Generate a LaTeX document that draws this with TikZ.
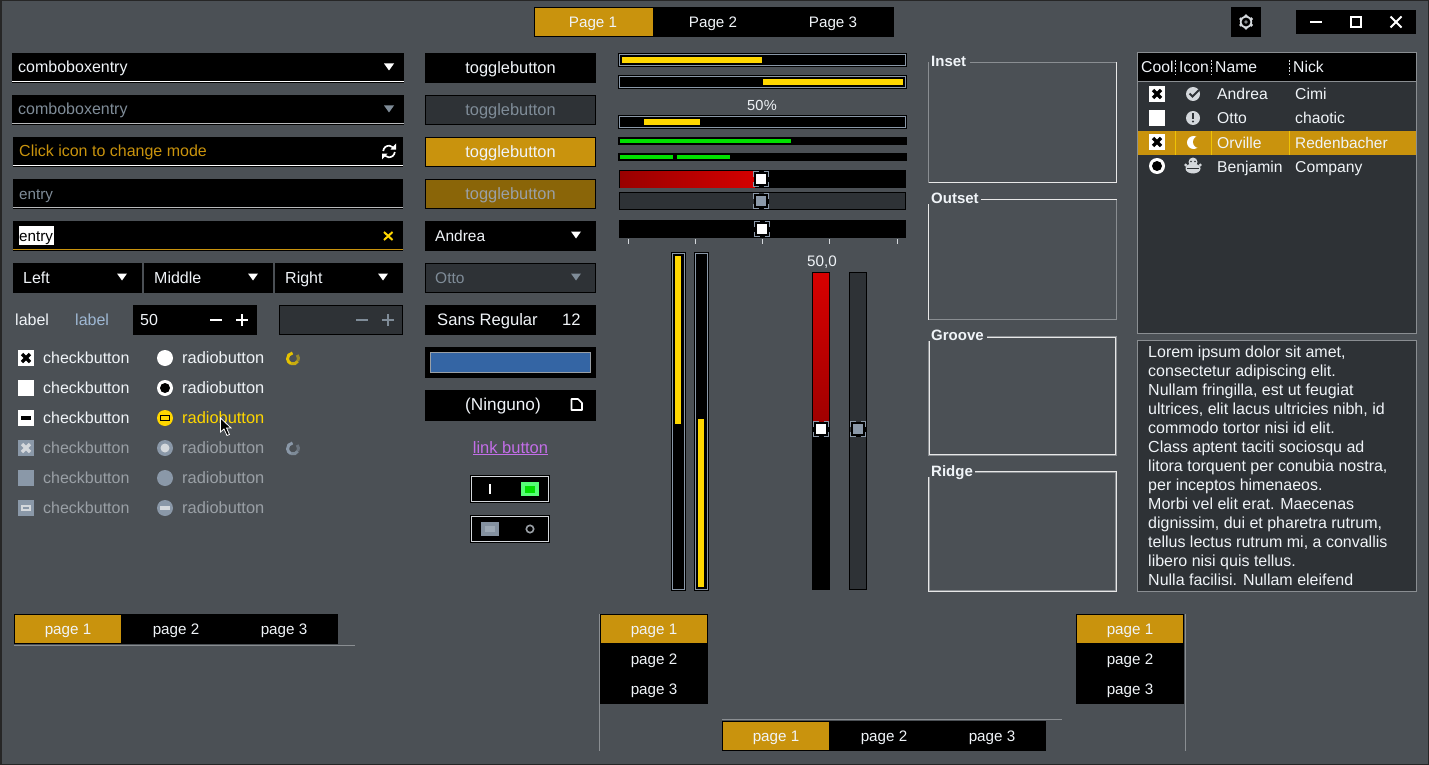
\documentclass[tikz,border=0pt]{standalone}
\usepackage{fontspec}
\setmainfont{Liberation Sans}
\usetikzlibrary{calc}
\definecolor{bg}{HTML}{4B5055}
\definecolor{wfg}{HTML}{F0F4F8}
\definecolor{dimfg}{HTML}{7F8C98}
\definecolor{dimcheck}{HTML}{9AA0A6}
\definecolor{insens}{HTML}{2E3236}
\definecolor{gold}{HTML}{C9930D}
\definecolor{dkgold}{HTML}{8A6508}
\definecolor{yel}{HTML}{FFD700}
\definecolor{grn}{HTML}{00E000}
\definecolor{slate}{HTML}{8A98A8}
\definecolor{lslate}{HTML}{D4D8DC}
\definecolor{lblue}{HTML}{9FB8D4}
\definecolor{frm}{HTML}{8A8E92}
\definecolor{frl}{HTML}{E8E8E8}
\definecolor{cblue}{HTML}{3465A4}
\definecolor{clink}{HTML}{C36EE8}
\definecolor{swgrn}{HTML}{55FF77}
\definecolor{redA}{HTML}{990000}
\definecolor{redB}{HTML}{D40000}
\definecolor{redC}{HTML}{D80000}
\definecolor{redD}{HTML}{A00000}
\tikzset{
  x=1pt,y=-1pt,
  every node/.style={font=\fontsize{16}{18}\selectfont},
  fs/.style={font=\fontsize{#1}{18}\selectfont},
  lbl/.style={inner sep=0,text=wfg,anchor=base west},
  clbl/.style={inner sep=0,text=wfg,anchor=base},
  bold/.style={font=\fontsize{15}{18}\selectfont\bfseries},
  hair/.style={line width=1pt},
}
% text: [opts] name x ycentre text
\newcommand\TL[5][]{\node[lbl,#1] (#2) at (#3,{#4+6}) {#5};}
\newcommand\TC[5][]{\node[clbl,#1] (#2) at (#3,{#4+6}) {#5};}
\newcommand\wbox[5]{\fill[#5] (#1,#2) rectangle (#3,#4);}
% button with insensitive look
\newcommand\ibox[4]{\fill[black] (#1,#2) rectangle (#3,#4);\fill[insens] ({#1+1},{#2+1}) rectangle ({#3-1},{#4-1});}
\newcommand\arr[3]{\fill[#3] ({#1-5},{#2-3.5}) -- ({#1+5},{#2-3.5}) -- (#1,{#2+3.5}) -- cycle;}
% entry: x1 y1 x2 y2 linecolor
\newcommand\entrybox[5]{\fill[black] (#1,#2) rectangle (#3,#4);\fill[#5] (#1,#4) rectangle (#3,{#4+1});\fill[black] (#1,{#4+1}) rectangle (#3,{#4+1.6});}
% checks
\newcommand\chkbg[3]{\fill[#3] ({#1-8},{#2-8}) rectangle ({#1+8},{#2+8});}
\newcommand\chkX[4]{\chkbg{#1}{#2}{#3}\draw[#4,line width=3.4pt] ({#1-4},{#2-4}) -- ({#1+4},{#2+4}) ({#1-4},{#2+4}) -- ({#1+4},{#2-4});}
\newcommand\chkM[4]{\chkbg{#1}{#2}{#3}\fill[#4] ({#1-5},{#2-2}) rectangle ({#1+5},{#2+2});}
\newcommand\hdl[3]{%
  \fill[black] ({#1-7.5},{#2-7.5}) rectangle ({#1+7.5},{#2+7.5});
  \fill[#3] ({#1-5.2},{#2-5.2}) rectangle ({#1+5.2},{#2+5.2});
  \draw[slate,line width=1pt] ({#1-2.5},{#2-7.5}) -- ({#1-7.5},{#2-7.5}) -- ({#1-7.5},{#2-2.5});
  \draw[slate,line width=1pt] ({#1+2.5},{#2-7.5}) -- ({#1+7.5},{#2-7.5}) -- ({#1+7.5},{#2-2.5});
  \draw[slate,line width=1pt] ({#1-2.5},{#2+7.5}) -- ({#1-7.5},{#2+7.5}) -- ({#1-7.5},{#2+2.5});
  \draw[slate,line width=1pt] ({#1+2.5},{#2+7.5}) -- ({#1+7.5},{#2+7.5}) -- ({#1+7.5},{#2+2.5});
}
% horizontal/vertical progress trough
\newcommand\trough[4]{\fill[black] (#1,#2) rectangle (#3,#4);\draw[slate,line width=1pt] ({#1+1.5},{#2+1.5}) rectangle ({#3-1.5},{#4-1.5});}
% spinner: x y colour
\newcommand\spinner[3]{%
  \draw[#3,line width=3pt] ($(#1,#2)+(265:5.5)$) arc (265:110:5.5);
  \draw[#3!80!bg,line width=3pt] ($(#1,#2)+(110:5.5)$) arc (110:30:5.5);
  \draw[#3!50!bg,line width=3pt] ($(#1,#2)+(30:5.5)$) arc (30:-40:5.5);
}
\begin{document}
\begin{tikzpicture}
\useasboundingbox (0,0) rectangle (1429,765);
\fill[bg] (0,0) rectangle (1429,765);
\draw[black!85,line width=1.5pt] (0.75,0.75) rectangle (1428.25,764.25);
% ---------- header
\wbox{534}{7}{894}{37}{black}
\wbox{535}{8}{653}{36}{gold}
\TC[fs=15.2]{hp1}{593}{21.5}{Page 1}
\TC[fs=15.2]{hp2}{713}{21.5}{Page 2}
\TC[fs=15.2]{hp3}{833}{21.5}{Page 3}
\wbox{1231}{7}{1261}{37}{black}
\fill[lslate] (1246,22) circle (6.2);
\foreach \a in {30,90,...,330}{\fill[lslate] ($(1246,22)+(\a:6)$) circle (1.8);}
\fill[black] (1246,22) circle (4.4);
\fill[lslate!60!black] (1246,22) circle (1.8);
\wbox{1296}{10}{1416}{34}{black}
\draw[white,line width=2pt] (1310,22) -- (1322,22);
\draw[white,line width=2pt] (1351,17.5) rectangle (1361,27);
\draw[white,line width=1.8pt] (1390.5,16.5) -- (1401.5,27.5) (1390.5,27.5) -- (1401.5,16.5);
% ---------- left column entries
\entrybox{12}{53}{404}{81}{white}
\TL{ce1}{18}{67}{comboboxentry}
\arr{389}{67}{white}
\entrybox{12}{95}{404}{123}{frl!70!bg}
\TL[text=dimfg]{ce2}{18}{109}{comboboxentry}
\arr{389}{109}{dimfg}
\entrybox{13}{137}{403}{165}{white}
\TL[text=gold]{en1}{19}{151}{Click icon to change mode}
\draw[white,line width=1.7pt] ($(389,151.5)+(185:5.8)$) arc (185:315:5.8);
\draw[white,line width=1.7pt] ($(389,151.5)+(5:5.8)$) arc (5:135:5.8);
\fill[white] (396,143.5) -- (396,149.5) -- (390.5,149.5) -- cycle;
\fill[white] (382,159.5) -- (382,153.5) -- (387.5,153.5) -- cycle;
\entrybox{13}{179}{403}{207}{frl!70!bg}
\TL[text=dimfg,fs=15.2]{en2}{19}{193}{entry}
\entrybox{13}{221}{403}{249}{gold}
\wbox{19}{226}{54}{245}{white}
\TL[text=black,fs=15.2]{en3}{19}{235}{entry}
\draw[yel,line width=2pt] (384,232) -- (392.5,240) (384,240) -- (392.5,232);
\wbox{13}{263}{142}{293}{black}
\wbox{144}{263}{273}{293}{black}
\wbox{275}{263}{403}{293}{black}
\TL{bl}{23}{277}{Left}
\TL{bm}{154}{277}{Middle}
\TL{br}{285}{277}{Right}
\arr{122}{277}{white}
\arr{253}{277}{white}
\arr{383}{277}{white}
\TL{l1}{15}{319.5}{label}
\TL[text=lblue]{l2}{75}{319.5}{label}
\wbox{133}{305}{257}{335}{black}
\TL{sp}{140}{319}{50}
\fill[white] (210,319) rectangle (222,321);
\fill[white] (236,319) rectangle (248,321);
\fill[white] (241,314) rectangle (243,326);
\ibox{279}{305}{403}{335}
\fill[dimfg] (356,319) rectangle (368,321);
\fill[dimfg] (382,319) rectangle (394,321);
\fill[dimfg] (387,314) rectangle (389,326);
% ---------- checks
\chkX{26}{358}{white}{black}
\chkbg{26}{388}{white}
\chkM{26}{418}{white}{black}
\chkX{26}{448}{slate}{lslate}
\chkbg{26}{478}{slate}
\chkbg{26}{508}{slate}
\fill[lslate] (21,505) rectangle (31,511);
\fill[slate] (23,507) rectangle (29,509);
\TL{c1}{43}{357.5}{checkbutton}
\TL{c2}{43}{387.5}{checkbutton}
\TL{c3}{43}{417.5}{checkbutton}
\TL[text=dimcheck]{c4}{43}{447.5}{checkbutton}
\TL[text=dimcheck]{c5}{43}{477.5}{checkbutton}
\TL[text=dimcheck]{c6}{43}{507.5}{checkbutton}
\fill[white] (165,358) circle (8);
\fill[white] (165,388) circle (8);
\fill[black] (165,388) circle (5);
\fill[yel] (165,418) circle (8);
\draw[black,line width=1.3pt] (160.5,415.7) rectangle (169.5,420.3);
\fill[slate] (165,448) circle (8);
\fill[lslate] (165,448) circle (4.5);
\fill[slate] (165,478) circle (8);
\fill[slate] (165,508) circle (8);
\fill[lslate] (160,506) rectangle (170,510);
\TL[fs=16.4]{r1}{182}{357.5}{radiobutton}
\TL[fs=16.4]{r2}{182}{387.5}{radiobutton}
\TL[text=yel,fs=16.4]{r3}{182}{417.5}{radiobutton}
\TL[text=dimcheck,fs=16.4]{r4}{182}{447.5}{radiobutton}
\TL[text=dimcheck,fs=16.4]{r5}{182}{477.5}{radiobutton}
\TL[text=dimcheck,fs=16.4]{r6}{182}{507.5}{radiobutton}
% spinners
\spinner{293}{358.5}{yel!90!black}
\spinner{293}{448.5}{slate}
% cursor
\fill[black,draw=white,line width=0.8pt] (220.5,418) -- (220.5,432) -- (224,429) -- (227,435.5) -- (229.5,434.5) -- (226.5,428) -- (231,428) -- cycle;
% ---------- middle column
\wbox{425}{53}{596}{83}{black}
\TC[fs=16.4]{tb1}{510.5}{67.5}{togglebutton}
\ibox{425}{95}{596}{125}
\TC[text=dimfg,fs=16.4]{tb2}{510.5}{109.5}{togglebutton}
\wbox{425}{137}{596}{167}{black}
\wbox{426}{138}{595}{166}{gold}
\TC[fs=16.4]{tb3}{510.5}{151.5}{togglebutton}
\wbox{425}{179}{596}{209}{black}
\wbox{426}{180}{595}{208}{dkgold}
\TC[text=dimcheck,fs=16.4]{tb4}{510.5}{193.5}{togglebutton}
\wbox{425}{221}{596}{251}{black}
\TL[fs=15.5]{cb1}{435}{235}{Andrea}
\arr{576}{235}{white}
\ibox{425}{263}{596}{293}
\TL[text=dimfg,fs=15.5]{cb2}{435}{277}{Otto}
\arr{576}{277}{dimfg}
\wbox{425}{305}{596}{335}{black}
\TL[fs=16.6]{fb1}{437}{319.5}{Sans Regular}
\TL[fs=16.6]{fb2}{562}{319.5}{12}
\wbox{425}{347}{596}{378}{black}
\fill[cblue,draw=dimcheck,line width=1pt] (430.5,352.5) rectangle (590.5,372.5);
\wbox{425}{390}{596}{421}{black}
\TC[fs=17.2]{fc1}{503}{404}{(Ninguno)}
\draw[white,line width=1.6pt,line join=round] (571.5,399) -- (578,399) -- (582,403) -- (582,410) -- (571.5,410) -- cycle;
\TC[text=clink,fs=16.5]{lnk}{510.5}{447}{\underline{link button}}
% switches
\fill[black] (470,475) rectangle (550,503);
\draw[lslate,line width=1pt] (471.5,476.5) rectangle (548.5,501.5);
\fill[white] (489,484) rectangle (491,494);
\fill[swgrn] (521,482) rectangle (539,496);
\fill[grn] (525,485.5) rectangle (535,492.5);
\fill[black] (470,515) rectangle (550,543);
\draw[lslate,line width=1pt] (471.5,516.5) rectangle (548.5,541.5);
\fill[slate!90!bg] (481,522) rectangle (499,536);
\fill[slate!85!white] (485,526) rectangle (495,532);
\draw[dimcheck,line width=1.6pt] (530,529) circle (3.7);
% ---------- progress
\trough{618}{53}{907}{67}
\wbox{622}{57}{762}{63}{yel}
\trough{618}{75}{907}{89}
\wbox{763}{79}{903}{85}{yel}
\TC[fs=14.6]{pct}{762}{104.5}{50\kern0.5pt\%}
\trough{618}{115}{907}{129}
\wbox{644}{119}{700}{125}{yel}
\wbox{618}{137}{907}{145}{black}
\wbox{620}{139}{791}{143}{grn}
\wbox{618}{153}{907}{161}{black}
\wbox{620}{155}{673}{159}{grn}
\wbox{677}{155}{730}{159}{grn}
% h-sliders
\wbox{619}{170}{906}{188}{black}
\shade[left color=redA,right color=redB] (620,171) rectangle (755,187);
\hdl{761}{179}{white}
\ibox{619}{192}{906}{210}
\hdl{761}{201}{slate}
\wbox{619}{220}{906}{238}{black}
\hdl{762}{229}{white}
\foreach \tx in {628,695,762,829,897}{\fill[lslate] ({\tx-0.5},239) rectangle ({\tx+0.5},244);}
% vertical progress
\trough{671}{252}{686}{591}
\wbox{675}{256}{681}{424}{yel}
\trough{694}{252}{709}{591}
\wbox{698}{419}{704}{587}{yel}
\TC[fs=15.2]{sc}{822}{260}{50,0}
\wbox{812}{272}{830}{590}{black}
\shade[top color=redC,bottom color=redD] (813,273) rectangle (829,423);
\hdl{821}{429}{white}
\ibox{849}{272}{867}{590}
\hdl{858}{429}{slate}
% ---------- frames
\draw[frm,hair] (928.5,67) -- (928.5,62.5) (970,62.5) -- (1116.5,62.5);
\draw[frm,hair] (928.5,67) -- (928.5,182.5);
\draw[frl,hair] (928.5,182.5) -- (1116.5,182.5) -- (1116.5,62.5);
\TL[bold]{fi}{931}{60.5}{Inset}
\draw[frl,hair] (928.5,319.5) -- (928.5,204) (981,199.5) -- (1116.5,199.5);
\draw[frm,hair] (928.5,319.5) -- (1116.5,319.5) -- (1116.5,199.5);
\TL[bold]{fo}{931}{197.5}{Outset}
\draw[frm,hair] (928.5,341) -- (928.5,455.5) -- (1116.5,455.5) -- (1116.5,336.5) -- (987,336.5);
\draw[frl,hair] (929.5,341) -- (929.5,454.5) -- (1115.5,454.5) -- (1115.5,337.5) -- (987,337.5);
\TL[bold]{fg}{931}{334.5}{Groove}
\draw[frl,hair] (928.5,477) -- (928.5,591.5) -- (1116.5,591.5) -- (1116.5,471.5) -- (975,471.5);
\draw[frm,hair] (929.5,477) -- (929.5,590.5) -- (1115.5,590.5) -- (1115.5,472.5) -- (975,472.5);
\TL[bold]{fr}{931}{470.5}{Ridge}
% ---------- tree view
\fill[insens,draw=frm,line width=1pt] (1137.5,52.5) rectangle (1416.5,333.5);
\wbox{1138}{53}{1416}{81}{black}
\wbox{1138}{81}{1416}{82}{frm}
\TL[fs=15.7]{h1}{1141}{67}{Cool}
\TL[fs=15.7]{h2}{1179}{67}{Icon}
\TL[fs=15.7]{h3}{1215}{67}{Name}
\TL[fs=15.7]{h4}{1293}{67}{Nick}
\foreach \sx in {1175.5,1211.5,1289.5}{\draw[lslate,line width=1pt,dash pattern=on 2pt off 1.5pt] (\sx,60) -- (\sx,75);}
\wbox{1138}{131}{1416}{155}{gold}
\foreach \sx in {1175.5,1211.5,1289.5}{\draw[yel!70!gold,line width=1pt] (\sx,131) -- (\sx,155);}
\chkX{1157}{94}{white}{black}
\chkbg{1157}{118}{white}
\chkX{1157}{142}{white}{black}
\fill[white] (1157,166) circle (8);
\fill[black] (1157,166) circle (5);
\TL[fs=15.7]{n1}{1217}{94}{Andrea}
\TL[fs=15.7]{k1}{1295}{94}{Cimi}
\TL[fs=15.7]{n2}{1217}{118}{Otto}
\TL[fs=15.7]{k2}{1295}{118}{chaotic}
\TL[fs=15.7]{n3}{1217}{142}{Orville}
\TL[fs=15.4]{k3}{1295}{142}{Redenbacher}
\TL[fs=15.7]{n4}{1217}{166}{Benjamin}
\TL[fs=15.7]{k4}{1295}{166}{Company}
% tree icons
\fill[lslate] (1193,94) circle (7);
\draw[insens,line width=1.8pt] (1189.5,93.5) -- (1192.5,96.5) -- (1199,90);
\fill[lslate] (1193,118) circle (7);
\fill[insens] (1192,113) rectangle (1194,119.5);
\fill[insens] (1193,121.5) circle (1.2);
\fill[white] (1193.5,142.5) circle (6.5);
\fill[gold] (1199,142) circle (6);
\fill[lslate] (1193,162) circle (4.5);
\fill[lslate] (1193,168.5) ellipse (7.5 and 5);
\fill[lslate] (1185.8,165) circle (1.6);
\fill[lslate] (1200.2,165) circle (1.6);
\fill[insens] (1191,161.5) circle (0.9);
\fill[insens] (1195,161.5) circle (0.9);
\draw[insens,line width=1pt] (1187,168) -- (1199,168);
% ---------- text view
\fill[insens,draw=frm,line width=1pt] (1137.5,340.5) rectangle (1416.5,591.5);
\TL{tv1}{1148}{351}{Lorem ipsum dolor sit amet,}
\TL{tv2}{1148}{370}{consectetur adipiscing elit.}
\TL{tv3}{1148}{389}{Nullam fringilla, est ut feugiat}
\TL{tv4}{1148}{408}{ultrices, elit lacus ultricies nibh, id}
\TL{tv5}{1148}{427}{commodo tortor nisi id elit.}
\TL{tv6}{1148}{446}{Class aptent taciti sociosqu ad}
\TL{tv7}{1148}{465}{litora torquent per conubia nostra,}
\TL{tv8}{1148}{484}{per inceptos himenaeos.}
\TL{tv9}{1148}{503}{Morbi vel elit erat. Maecenas}
\TL{tv10}{1148}{522}{dignissim, dui et pharetra rutrum,}
\TL{tv11}{1148}{541}{tellus lectus rutrum mi, a convallis}
\TL{tv12}{1148}{560}{libero nisi quis tellus.}
\TL{tv13}{1148}{579}{Nulla facilisi. Nullam eleifend}
% ---------- notebooks
\wbox{14}{614}{338}{644}{black}
\wbox{15}{615}{121}{643}{gold}
\TC[fs=15.2]{nb1}{68}{628}{page 1}
\TC[fs=15.2]{nb2}{176}{628}{page 2}
\TC[fs=15.2]{nb3}{284}{628}{page 3}
\draw[frm,hair] (14,645.5) -- (355,645.5);
\wbox{600}{614}{708}{704}{black}
\wbox{601}{615}{707}{643}{gold}
\TC[fs=15.2]{nl1}{654}{628}{page 1}
\TC[fs=15.2]{nl2}{654}{658}{page 2}
\TC[fs=15.2]{nl3}{654}{688}{page 3}
\draw[frm,hair] (599,614) -- (599,751);
\wbox{722}{721}{1046}{751}{black}
\wbox{723}{722}{829}{750}{gold}
\TC[fs=15.2]{nm1}{776}{735}{page 1}
\TC[fs=15.2]{nm2}{884}{735}{page 2}
\TC[fs=15.2]{nm3}{992}{735}{page 3}
\draw[frm,hair] (722,719.5) -- (1062,719.5);
\wbox{1076}{614}{1184}{704}{black}
\wbox{1077}{615}{1183}{643}{gold}
\TC[fs=15.2]{nr1}{1130}{628}{page 1}
\TC[fs=15.2]{nr2}{1130}{658}{page 2}
\TC[fs=15.2]{nr3}{1130}{688}{page 3}
\draw[frm,hair] (1185,614) -- (1185,751);
\end{tikzpicture}
\end{document}
